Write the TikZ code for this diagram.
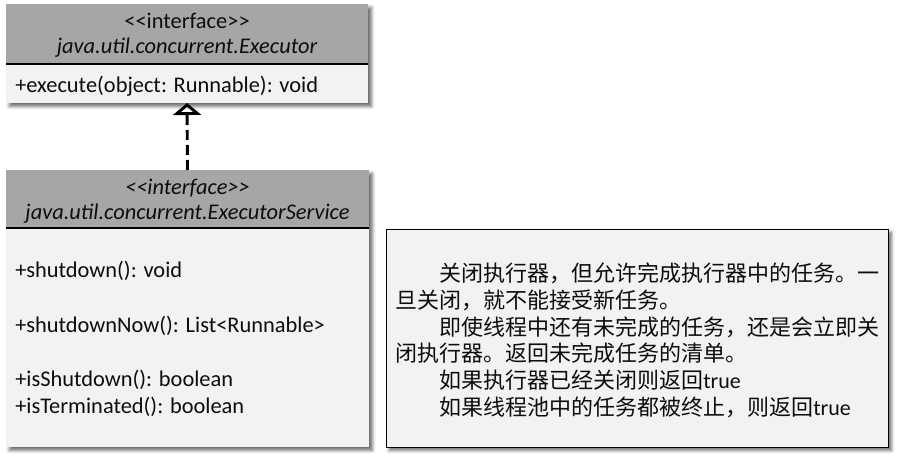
\documentclass[tikz,border=0pt]{standalone}
\usepackage{fontspec}
\setmainfont{Carlito}
\newfontfamily\cjk{Noto Sans CJK SC}
\usetikzlibrary{arrows.meta,shadows.blur}
\definecolor{hdr}{HTML}{A6A6A6}
\definecolor{bdy}{HTML}{F2F2F2}
\definecolor{ink}{HTML}{0D0D0D}
\begin{document}
\begin{tikzpicture}[x=0.75pt,y=-0.75pt,
  box/.style={draw=none, inner sep=0pt, outer sep=0pt, anchor=north west},
  cls/.style={box, fill=bdy, blur shadow={shadow xshift=2.5pt, shadow yshift=-2.5pt, shadow blur radius=2.5pt, shadow opacity=60}},
  hd/.style={box, fill=hdr},
  sepline/.style={line width=1.5pt, draw=black},
  lbl/.style={inner sep=0pt, text=ink, font=\fontsize{16.8pt}{20pt}\selectfont},
  itl/.style={lbl, anchor=base, font=\fontsize{16.8pt}{20pt}\selectfont\itshape},
  zh/.style={inner sep=0pt, text=ink, anchor=base west, font=\fontsize{16.5pt}{20pt}\selectfont},
  realize/.style={draw=black, line width=2.2pt, dash pattern=on 7.5pt off 3.75pt,
    -{Triangle[open, length=9pt, width=21pt]}}
]
\useasboundingbox (0,0) rectangle (921,460);

% class 1
\node[cls, minimum width=271.5pt, minimum height=74.25pt] (c1) at (6,4) {};
\node[hd, minimum width=271.5pt, minimum height=45pt] (h1) at (6,4) {};
\draw[sepline] (h1.south west) -- (h1.south east);
\node[lbl, anchor=base] (s1) at (187,29) {<\kern0pt<interface>\kern0pt>};
\node[itl] (n1) at (187,54) {java.util.concurrent.Executor};
\node[lbl, anchor=base west] (m1) at (15,93) {+execute(object: Runnable): void};

% class 2
\node[cls, minimum width=272.25pt, minimum height=207.75pt] (c2) at (6,170) {};
\node[hd, minimum width=272.25pt, minimum height=43.5pt] (h2) at (6,170) {};
\draw[sepline] (h2.south west) -- (h2.south east);
\node[itl] (s2) at (187.5,194) {<\kern0pt<interface>\kern0pt>};
\node[itl] (n2) at (187.5,219) {java.util.concurrent.ExecutorService};
\node[lbl, anchor=base west] (m2) at (15,277) {+shutdown(): void};
\node[lbl, anchor=base west] (m3) at (15,332) {+shutdownNow(): List<Runnable>};
\node[lbl, anchor=base west] (m4) at (15,386) {+isShutdown(): boolean};
\node[lbl, anchor=base west] (m5) at (15,413) {+isTerminated(): boolean};

% realization
\draw[realize] (c2.north) -- (c1.south);

% note
\node[box, fill=bdy, draw=black, line width=0.75pt, minimum width=376.5pt, minimum height=163.5pt,
  blur shadow={shadow xshift=2.5pt, shadow yshift=-2.5pt, shadow blur radius=2.5pt, shadow opacity=60}] (note) at (386,229) {};
\node[zh] (z1) at (439,281) {\cjk 关闭执行器，但允许完成执行器中的任务。一};
\node[zh] (z2) at (395,308) {\cjk 旦关闭，就不能接受新任务。};
\node[zh] (z3) at (439,335) {\cjk 即使线程中还有未完成的任务，还是会立即关};
\node[zh] (z4) at (395,361) {\cjk 闭执行器。返回未完成任务的清单。};
\node[zh] (z5) at (439,388) {{\cjk 如果执行器已经关闭则返回}true};
\node[zh] (z6) at (439,415) {{\cjk 如果线程池中的任务都被终止，则返回}true};
\end{tikzpicture}
\end{document}
